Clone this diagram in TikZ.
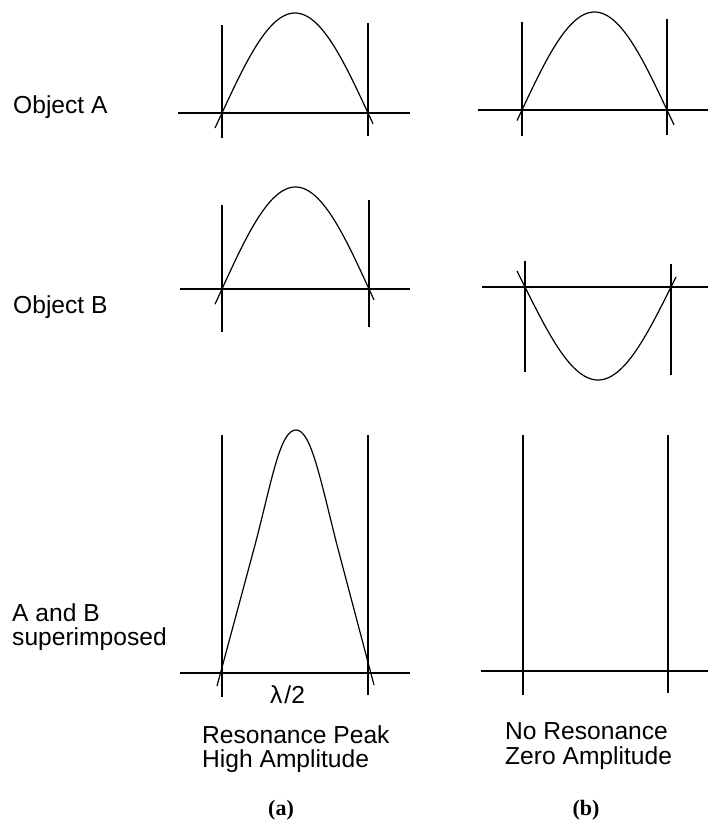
\documentclass[tikz,border=0pt]{standalone}
\usepackage{fontspec}
\setmainfont{Liberation Sans}
\newfontfamily\serifbold{Liberation Serif}
\begin{document}
\begin{tikzpicture}[x=1pt,y=-1pt,
  axisline/.style={line width=1.2pt, black},
  wave/.style={line width=1.2pt, black},
  lbl/.style={font=\fontsize{24.6}{28}\selectfont, anchor=base west, inner sep=0pt},
  sublbl/.style={font=\serifbold\bfseries\fontsize{22}{26}\selectfont, anchor=base, inner sep=0pt}]
\useasboundingbox (0,0) rectangle (708,823);
% ---------- Object A, column (a)
\draw[axisline] (178,113) -- (410,113);
\draw[axisline] (222,25) -- (222,138);
\draw[axisline] (368,23) -- (368,136);
\draw[wave] plot[domain=215:373, samples=90, smooth] (\x, {113-100*sin((\x-222)/146*180)});
% ---------- Object A, column (b)
\draw[axisline] (478,110) -- (708,110);
\draw[axisline] (522,22) -- (522,136);
\draw[axisline] (667,19) -- (667,135);
\draw[wave] plot[domain=517:674, samples=90, smooth] (\x, {110-98*sin((\x-522)/145*180)});
% ---------- Object B, column (a)
\draw[axisline] (180,289) -- (410,289);
\draw[axisline] (222,205) -- (222,332);
\draw[axisline] (369,200) -- (369,327);
\draw[wave] plot[domain=215:374, samples=90, smooth] (\x, {289-102*sin((\x-222)/147*180)});
% ---------- Object B, column (b)
\draw[axisline] (482,287) -- (708,287);
\draw[axisline] (525,261) -- (525,372);
\draw[axisline] (671,264) -- (671,375);
\draw[wave] plot[domain=517:676, samples=90, smooth] (\x, {287+93*sin((\x-525)/146*180)});
% ---------- superimposed, column (a)
\draw[axisline] (180,673) -- (410,673);
\draw[axisline] (222,435) -- (222,697);
\draw[axisline] (368,435) -- (368,695);
\draw[wave] (217,686) -- (255,545) .. controls (272,480) and (280,430) .. (296,430)
  .. controls (311,430) and (320,478) .. (337,545) -- (374,685);
% ---------- superimposed, column (b)
\draw[axisline] (481,671) -- (708,671);
\draw[axisline] (523,435) -- (523,695);
\draw[axisline] (668,435) -- (668,693);
% ---------- labels
\node[lbl] (objA) at (13,113) {Object A};
\node[lbl] (objB) at (13,313) {Object B};
\node[lbl] (ab) at (12,621) {A and B};
\node[lbl] (sup) at (12,645) {superimposed};
\node[lbl] (half) at (270,703) {λ\kern2pt/2};
\node[lbl] (res1) at (202,743) {Resonance Peak};
\node[lbl] (res2) at (202,767) {High Amplitude};
\node[lbl] (nores1) at (505,739) {No Resonance};
\node[lbl] (nores2) at (505,764) {Zero Amplitude};
\node[sublbl] (la) at (281,815) {(a)};
\node[sublbl] (lb) at (586,815) {(b)};
\end{tikzpicture}
\end{document}
